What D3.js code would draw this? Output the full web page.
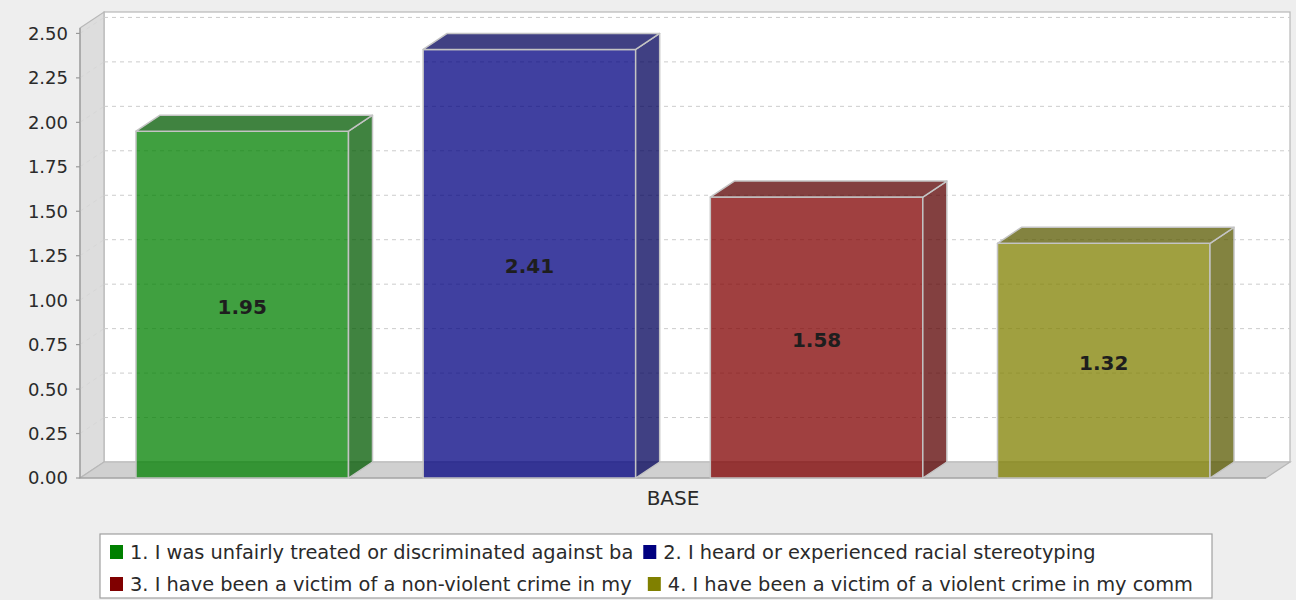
<!DOCTYPE html>
<html>
<head>
<meta charset="utf-8">
<script src="https://cdn.jsdelivr.net/npm/d3@7"></script>
<style>
  html, body { margin: 0; padding: 0; background: #eeeeee; }
  svg { display: block; }
  text { font-family: "DejaVu Sans", sans-serif; }
</style>
</head>
<body>
<svg id="chart" width="1296" height="600"></svg>
<script>
// Single category, four series
const category = "BASE";
const seriesLabels = [
  "1. I was unfairly treated or discriminated against ba",
  "2. I heard or experienced racial stereotyping",
  "3. I have been a victim of a non-violent crime in my ",
  "4. I have been a victim of a violent crime in my comm"
];
const values = [1.95, 2.41, 1.58, 1.32];
const seriesColors = ["#008000", "#000080", "#800000", "#808000"];
const yTicks = [0, 0.25, 0.5, 0.75, 1.0, 1.25, 1.5, 1.75, 2.0, 2.25, 2.5];

const W = 1296, H = 600;
const svg = d3.select("#chart");
svg.append("rect").attr("width", W).attr("height", H).attr("fill", "#eeeeee");

// 3D depth offsets
const DX = 24, DY = 16;
// front plane of the plot
const pLeft = 80, pRight = 1266, pTop = 28, pBottom = 478;

const y = d3.scaleLinear()
  .domain([0, d3.max(values) * 1.05])
  .range([pBottom, pTop]);

const x = d3.scaleBand()
  .domain(d3.range(values.length))
  .range([pLeft, pRight])
  .paddingInner(0.26)
  .paddingOuter(0.195);

const pts = a => a.map(p => p.join(",")).join(" ");
const edge = "#b8b8b8";

// back wall
svg.append("rect")
  .attr("x", pLeft + DX).attr("y", pTop - DY)
  .attr("width", pRight - pLeft).attr("height", pBottom - pTop)
  .attr("fill", "#ffffff").attr("stroke", edge).attr("stroke-width", 1.2);

// left wall
svg.append("polygon")
  .attr("points", pts([[pLeft, pTop], [pLeft + DX, pTop - DY], [pLeft + DX, pBottom - DY], [pLeft, pBottom]]))
  .attr("fill", "#dddddd").attr("stroke", edge).attr("stroke-width", 1.2);

// floor
svg.append("polygon")
  .attr("points", pts([[pLeft, pBottom], [pLeft + DX, pBottom - DY], [pRight + DX, pBottom - DY], [pRight, pBottom]]))
  .attr("fill", "#d0d0d0").attr("stroke", edge).attr("stroke-width", 1.2);

// gridlines: diagonal on the left wall, then along the back wall
const grid = svg.append("g").attr("stroke", "#cccccc").attr("stroke-width", 1)
  .attr("stroke-dasharray", "4,4").attr("fill", "none");
yTicks.filter(t => t > 0).forEach(t => {
  const yy = y(t);
  grid.append("line").attr("x1", pLeft).attr("y1", yy)
    .attr("x2", pLeft + DX).attr("y2", yy - DY).attr("stroke", "#d6d6d6");
  grid.append("line").attr("x1", pLeft + DX).attr("y1", yy - DY)
    .attr("x2", pRight + DX).attr("y2", yy - DY);
});

// value axis
const axisG = svg.append("g");
axisG.append("line").attr("x1", pLeft).attr("y1", pTop).attr("x2", pLeft).attr("y2", pBottom)
  .attr("stroke", "#999999").attr("stroke-width", 1.2);
yTicks.forEach(t => {
  axisG.append("line").attr("x1", pLeft - 4).attr("x2", pLeft)
    .attr("y1", y(t)).attr("y2", y(t)).attr("stroke", "#999999").attr("stroke-width", 1.2);
  axisG.append("text").attr("x", 68).attr("y", y(t)).attr("dy", "0.36em")
    .attr("text-anchor", "end").attr("font-size", 18).attr("fill", "#2a2a2a")
    .text(d3.format(".2f")(t));
});

// category axis
svg.append("line").attr("x1", pLeft).attr("y1", pBottom).attr("x2", pRight).attr("y2", pBottom)
  .attr("stroke", "#999999").attr("stroke-width", 1.2);
svg.append("text").attr("x", (pLeft + pRight) / 2).attr("y", 505)
  .attr("text-anchor", "middle").attr("font-size", 20).attr("fill", "#2a2a2a")
  .text(category);

// bars
const bars = svg.append("g");
values.forEach((v, i) => {
  const x0 = x(i), x1 = x(i) + x.bandwidth();
  const yt = y(v), yb = y(0);
  const base = d3.color(seriesColors[i]);
  const dark = base.darker(1); // ~0.7x
  const g = bars.append("g").attr("stroke", "#c4c4c4").attr("stroke-width", 1.5)
    .attr("stroke-linejoin", "round");
  // front face
  g.append("rect").attr("x", x0).attr("y", yt).attr("width", x1 - x0).attr("height", yb - yt)
    .attr("fill", base).attr("fill-opacity", 0.75);
  // side face
  g.append("polygon")
    .attr("points", pts([[x1, yt], [x1 + DX, yt - DY], [x1 + DX, yb - DY], [x1, yb]]))
    .attr("fill", dark).attr("fill-opacity", 0.75);
  // top face
  g.append("polygon")
    .attr("points", pts([[x0, yt], [x0 + DX, yt - DY], [x1 + DX, yt - DY], [x1, yt]]))
    .attr("fill", dark).attr("fill-opacity", 0.75);
  // value label
  bars.append("text").attr("x", (x0 + x1) / 2).attr("y", (yt + yb) / 2).attr("dy", "0.45em")
    .attr("text-anchor", "middle").attr("font-family", "'DejaVu Sans Mono', monospace")
    .attr("font-weight", "bold").attr("font-size", 20).attr("fill", "#1e1e1e")
    .text(d3.format(".2f")(v));
});

// legend
const lg = svg.append("g");
lg.append("rect").attr("x", 100).attr("y", 534).attr("width", 1112).attr("height", 64)
  .attr("fill", "#ffffff").attr("stroke", "#a0a0a0").attr("stroke-width", 1.2);
const rows = [[0, 1], [2, 3]];
const rowY = [552, 584];
rows.forEach((row, r) => {
  let cx = 110;
  row.forEach(i => {
    lg.append("rect").attr("x", cx).attr("y", rowY[r] - 7).attr("width", 13).attr("height", 14)
      .attr("fill", seriesColors[i]);
    const t = lg.append("text").attr("x", cx + 20).attr("y", rowY[r]).attr("dy", "0.36em")
      .attr("font-size", 19.4).attr("fill", "#2a2a2a")
      .attr("xml:space", "preserve").style("white-space", "pre")
      .text(seriesLabels[i]);
    cx = cx + 20 + t.node().getComputedTextLength() + 10;
  });
});
</script>
</body>
</html>
